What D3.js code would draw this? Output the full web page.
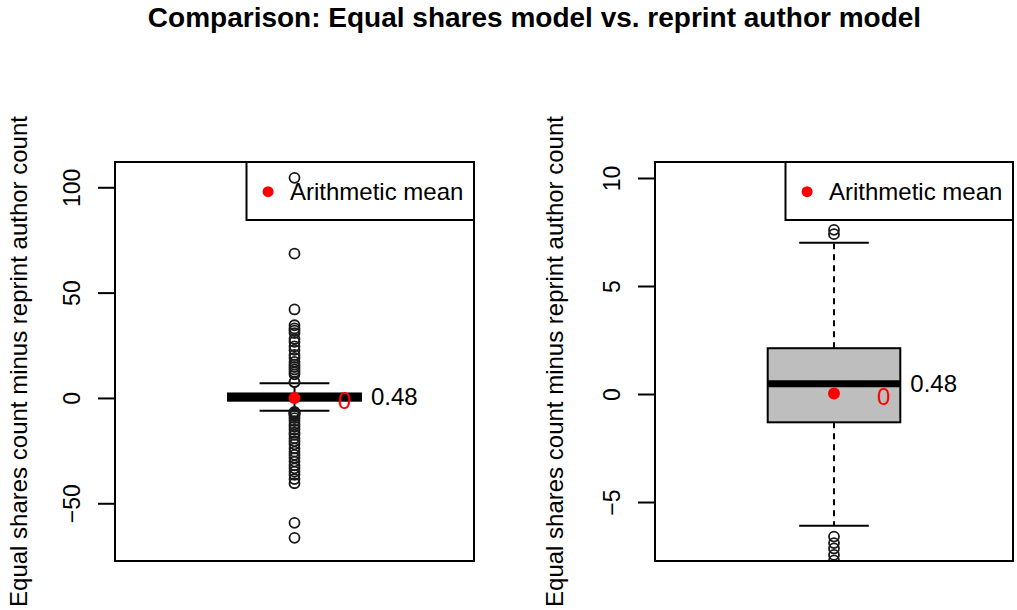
<!DOCTYPE html>
<html><head><meta charset="utf-8">
<script src="https://cdn.jsdelivr.net/npm/d3@7"></script>
<style>
body{margin:0;background:#fff}
svg{display:block}
text{font-family:"Liberation Sans",Arial,Helvetica,sans-serif}
</style>
</head><body>
<svg id="chart" width="1017" height="610"></svg>
<script>
// ---------- data ----------
const chartTitle = "Comparison: Equal shares model vs. reprint author model";
const yAxisTitle = "Equal shares count minus reprint author count";
const legendLabel = "Arithmetic mean";
const statNames  = ["lowerWhisker", "q1", "median", "q3", "upperWhisker"];
const statValues = [-6.1, -1.31, 0.48, 2.12, 7.0];
const meanValue  = [0.02];
const meanLabel  = ["0"];
const medianLabel = ["0.48"];
const outliers = [104.5, 68.5, 42, 34.5, 33, 32, 30.8, 28, 26.6, 24.5, 22.8, 20.4, 19, 17.1,
  15.8, 14.7, 13.5, 12.3, 11.2, 7.6, 7.4,
  -6.6, -6.9, -7.15, -7.45, -7.7, -8.5, -9.6, -11, -12.5, -13.6, -15, -16.5, -17.5, -19.1,
  -20.5, -22, -23.9, -25.5, -27, -28.5, -30.2, -32, -33.4, -35, -36.5, -38.5, -40.5, -59.3, -66.4];
const leftTicks  = [-50, 0, 50, 100];
const rightTicks = [-5, 0, 5, 10];
const leftDomain  = [-77.4, 112];
const rightDomain = [-7.73, 10.74];

// ---------- drawing ----------
const S = Object.fromEntries(statNames.map((n, i) => [n, statValues[i]]));
const svg = d3.select("#chart");

svg.append("text")
  .attr("x", 534.5).attr("y", 27)
  .attr("text-anchor", "middle")
  .attr("font-size", 28).attr("font-weight", "bold")
  .text(chartTitle);

function panel(id, p, yDomain, ticks) {
  const g = svg.append("g");
  const x = d3.scaleLinear().domain([0.46, 1.54]).range([p.x0, p.x1]);
  const y = d3.scaleLinear().domain(yDomain).range([p.y1, p.y0]);

  svg.append("clipPath").attr("id", "clip" + id)
    .append("rect").attr("x", p.x0).attr("y", p.y0)
    .attr("width", p.x1 - p.x0).attr("height", p.y1 - p.y0);
  const inner = g.append("g").attr("clip-path", `url(#clip${id})`);

  // whiskers (dashed)
  inner.selectAll("line.wh").data([[S.q3, S.upperWhisker], [S.q1, S.lowerWhisker]])
    .join("line").attr("class", "wh")
    .attr("x1", x(1)).attr("x2", x(1))
    .attr("y1", d => y(d[0])).attr("y2", d => y(d[1]))
    .attr("stroke", "#000").attr("stroke-width", 2).attr("stroke-dasharray", "6,5");
  // staples
  inner.selectAll("line.cap").data([S.upperWhisker, S.lowerWhisker])
    .join("line").attr("class", "cap")
    .attr("x1", x(0.895)).attr("x2", x(1.105))
    .attr("y1", d => y(d)).attr("y2", d => y(d))
    .attr("stroke", "#000").attr("stroke-width", 2);
  // box
  inner.append("rect")
    .attr("x", x(0.8)).attr("width", x(1.2) - x(0.8))
    .attr("y", y(S.q3)).attr("height", y(S.q1) - y(S.q3))
    .attr("fill", "#bebebe").attr("stroke", "#000").attr("stroke-width", 2);
  // median
  inner.append("line")
    .attr("x1", x(0.8)).attr("x2", x(1.2))
    .attr("y1", y(S.median)).attr("y2", y(S.median))
    .attr("stroke", "#000").attr("stroke-width", 7);
  // outliers
  inner.selectAll("circle.out").data(outliers).join("circle").attr("class", "out")
    .attr("cx", x(1)).attr("cy", d => y(d)).attr("r", 5)
    .attr("fill", "none").attr("stroke", "#1a1a1a").attr("stroke-width", 1.8);
  // mean
  inner.selectAll("circle.mean").data(meanValue).join("circle").attr("class", "mean")
    .attr("cx", x(1)).attr("cy", d => y(d)).attr("r", 6).attr("fill", "#ff0000");
  g.selectAll("text.meanlab").data(meanValue).join("text").attr("class", "meanlab")
    .attr("x", x(1.15)).attr("y", d => y(d) + 3).attr("dy", "0.35em")
    .attr("text-anchor", "middle").attr("font-size", 24).attr("fill", "#ff0000")
    .text(meanLabel[0]);
  g.append("text")
    .attr("x", x(1.2) + 10).attr("y", y(S.median)).attr("dy", "0.35em")
    .attr("font-size", 24).attr("fill", "#000").text(medianLabel[0]);

  // frame
  g.append("rect").attr("x", p.x0).attr("y", p.y0)
    .attr("width", p.x1 - p.x0).attr("height", p.y1 - p.y0)
    .attr("fill", "none").attr("stroke", "#000").attr("stroke-width", 2);

  // axis
  const ax = g.append("g").attr("transform", `translate(${p.x0},0)`)
    .call(d3.axisLeft(y).tickValues(ticks).tickSize(17).tickSizeOuter(0));
  ax.select(".domain").remove();
  ax.selectAll(".tick line").attr("stroke", "#000").attr("stroke-width", 2);
  ax.selectAll(".tick text")
    .attr("x", null).attr("dy", null)
    .attr("transform", "translate(-35,0) rotate(-90)")
    .attr("text-anchor", "middle")
    .attr("font-size", 23).attr("fill", "#000")
    .style("font-family", '"Liberation Sans",Arial,sans-serif');

  // axis title
  g.append("text")
    .attr("transform", `translate(${p.titleX},${(p.y0 + p.y1) / 2}) rotate(-90)`)
    .attr("text-anchor", "middle").attr("font-size", 24)
    .text(yAxisTitle);

  // legend
  const lw = 227.5, lh = 58, lx = p.x1 - lw;
  g.append("rect").attr("x", lx).attr("y", p.y0).attr("width", lw).attr("height", lh)
    .attr("fill", "none").attr("stroke", "#000").attr("stroke-width", 2);
  g.append("circle").attr("cx", lx + 21.6).attr("cy", p.y0 + 29.7).attr("r", 5.5).attr("fill", "#ff0000");
  g.append("text").attr("x", lx + 43.5).attr("y", p.y0 + 29.7).attr("dy", "0.35em")
    .attr("font-size", 24).text(legendLabel);
}

panel("L", {x0: 115, x1: 474, y0: 162, y1: 561, titleX: 26.5}, leftDomain, leftTicks);
panel("R", {x0: 655, x1: 1013, y0: 162, y1: 561, titleX: 563}, rightDomain, rightTicks);
</script>
</body></html>
